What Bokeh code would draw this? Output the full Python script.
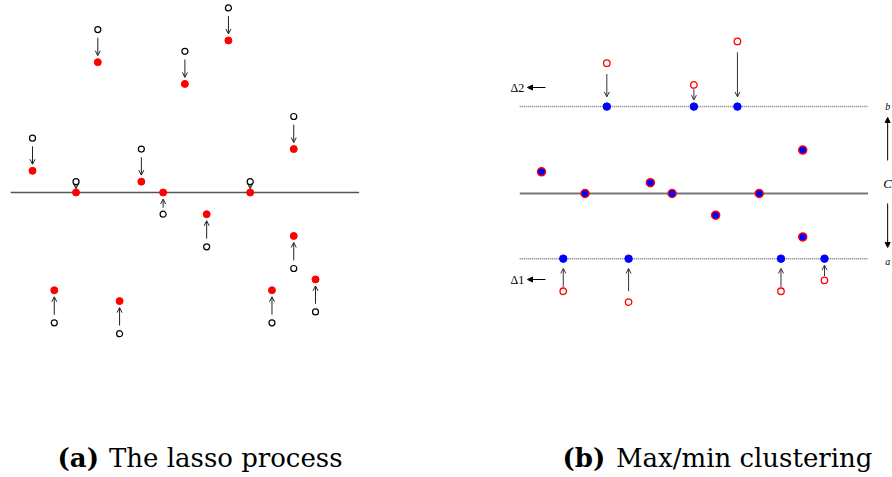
from bokeh.plotting import figure
from bokeh.models import Range1d, Arrow, OpenHead, NormalHead, ColumnDataSource
from bokeh.layouts import row
from bokeh.embed import file_html
from bokeh.resources import INLINE
from bokeh.core.properties import value

# ---- data ----
x_idx = [1, 2, 3, 4, 5, 6, 7, 8, 9, 10, 11, 12, 13, 13, 14]
original = [5, -12, 1, 15, -13, 4, -2, 13, -5, 17, 1, -12, 7, -7, -11]
lasso = [2, -9, 0, 12, -10, 1, 0, 10, -2, 14, 0, -9, 4, -4, -8]
clustered = [2, -6, 0, 8, -6, 1, 0, 8, -2, 8, 0, -6, 4, -4, -6]
bound_a = -6
bound_b = 8
line_span = [0, 16]
cap_a = ["(a)", "The lasso process"]
cap_b = ["(b)", "Max/min clustering"]
delta_labels = ["\u03942", "\u03941"]
side_labels = ["b", "C", "a"]

SERIF = "DejaVu Serif"
H = 477


def base_fig(w, xr, yr):
    p = figure(width=w, height=H, x_range=Range1d(*xr), y_range=Range1d(*yr),
               x_axis_type=None, y_axis_type=None, toolbar_location=None,
               output_backend="svg", min_border=0)
    p.outline_line_color = None
    p.background_fill_color = "white"
    p.border_fill_color = "white"
    return p


def sgn(v):
    return 1 if v > 0 else (-1 if v < 0 else 0)


# ---------------- left panel ----------------
pl = base_fig(446, (-0.470, 20.017), (-26.243, 17.680))
pl.line(line_span, [0, 0], line_color="#555555", line_width=1.5)

xs, ys, ye = [], [], []
for xi, o, l in zip(x_idx, original, lasso):
    d = abs(o - l)
    s = sgn(l - o)
    xs.append(xi)
    ys.append(o + s * min(0.75, 0.3 * d))
    ye.append(l - s * min(0.6, 0.35 * d))
src_l = ColumnDataSource(dict(x=xs, ys=ys, ye=ye))
pl.add_layout(Arrow(x_start="x", y_start="ys", x_end="x", y_end="ye", source=src_l,
                    line_color="#222222", line_width=1,
                    end=OpenHead(size=5, line_width=1, line_color="#222222")))

pl.scatter(x_idx, lasso, size=7, fill_color="red", line_color="red")
pl.scatter(x_idx, original, size=6, fill_color="white", line_color="black", line_width=1.2)

pl.text(x=[2.148], y=[-25.87], text=[cap_a[0]], text_font=value(SERIF),
        text_font_size="26px", text_font_style="bold", text_align="left",
        text_baseline="bottom", text_color="black")
pl.text(x=[15.24], y=[-25.87], text=[cap_a[1]], text_font=value(SERIF),
        text_font_size="26px", text_align="right", text_baseline="bottom",
        text_color="black")

# ---------------- right panel ----------------
pr = base_fig(446, (-3.364, 17.123), (-26.151, 17.772))
pr.line(line_span, [0, 0], line_color="#777777", line_width=2)
pr.line(line_span, [bound_b, bound_b], line_color="#777777", line_width=1.5, line_dash="1 1")
pr.line(line_span, [bound_a, bound_a], line_color="#777777", line_width=1.5, line_dash="1 1")

mid_x = [xi for xi, l, c in zip(x_idx, lasso, clustered) if l == c]
mid_y = [c for l, c in zip(lasso, clustered) if l == c]
clip_x = [xi for xi, l, c in zip(x_idx, lasso, clustered) if l != c]
clip_from = [l for l, c in zip(lasso, clustered) if l != c]
clip_to = [c for l, c in zip(lasso, clustered) if l != c]

xs, ys, ye = [], [], []
for xi, l, c in zip(clip_x, clip_from, clip_to):
    d = abs(l - c)
    s = sgn(c - l)
    xs.append(xi)
    ys.append(l + s * (0.4 if d <= 3 else 1.0))
    ye.append(c - s * min(0.9, 0.3 * d))
src_r = ColumnDataSource(dict(x=xs, ys=ys, ye=ye))
pr.add_layout(Arrow(x_start="x", y_start="ys", x_end="x", y_end="ye", source=src_r,
                    line_color="#333333", line_width=1,
                    end=OpenHead(size=5, line_width=1, line_color="#333333")))

pr.scatter(mid_x, mid_y, size=8, fill_color="blue", line_color="red", line_width=1.5)
pr.scatter(clip_x, clip_to, size=7.5, fill_color="blue", line_color="blue")
pr.scatter(clip_x, clip_from, size=6.5, fill_color="white", line_color="red", line_width=1.3)

# delta labels with left arrows
pr.text(x=[-0.424, -0.424], y=[9.76, -7.92], text=delta_labels,
        text_font=value("Liberation Serif"), text_font_size="12px",
        text_align="left", text_baseline="middle", text_color="black")
for yy in (9.76, -7.92):
    pr.add_layout(Arrow(x_start=1.18, y_start=yy, x_end=0.357, y_end=yy,
                        line_color="black", line_width=1.2,
                        end=NormalHead(size=5, fill_color="black", line_color="black")))

# side labels b, C, a and the vertical arrows
SX = 16.90
pr.text(x=[SX, SX, SX], y=[8.0, 0.92, -6.26], text=side_labels,
        text_font=value("Liberation Serif"), text_font_size=["10px", "13px", "10px"],
        text_font_style="italic", text_align="center", text_baseline="middle",
        text_color="black")
pr.add_layout(Arrow(x_start=SX, y_start=3.04, x_end=SX, y_end=7.0,
                    line_color="black", line_width=1,
                    end=NormalHead(size=5, fill_color="black", line_color="black")))
pr.add_layout(Arrow(x_start=SX, y_start=-0.92, x_end=SX, y_end=-4.97,
                    line_color="black", line_width=1,
                    end=NormalHead(size=5, fill_color="black", line_color="black")))

pr.text(x=[1.965], y=[-25.78], text=[cap_b[0]], text_font=value(SERIF),
        text_font_size="26px", text_font_style="bold", text_align="left",
        text_baseline="bottom", text_color="black")
pr.text(x=[16.2], y=[-25.78], text=[cap_b[1]], text_font=value(SERIF),
        text_font_size="26px", text_align="right", text_baseline="bottom",
        text_color="black")

layout = row(pl, pr)
open("out.html", "w").write(file_html(layout, INLINE))
